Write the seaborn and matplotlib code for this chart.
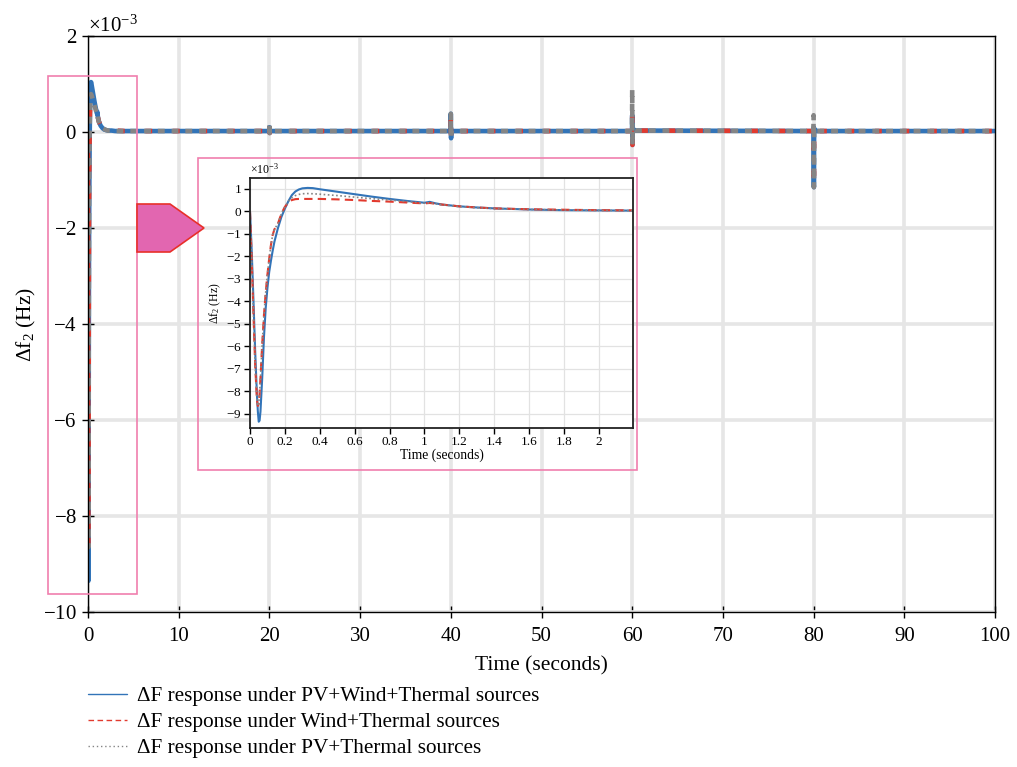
import numpy as np
import pandas as pd
import seaborn as sns
import matplotlib
matplotlib.use("Agg")
import matplotlib.pyplot as plt
from matplotlib.patches import Rectangle, Polygon
from matplotlib.lines import Line2D
from matplotlib.ticker import ScalarFormatter, MultipleLocator

# ---- simulated frequency deviation of area 2 (values in 1e-3 Hz) ----
time_s = [0, 0.01, 0.02, 0.03, 0.04, 0.045, 0.05, 0.055, 0.06, 0.07, 0.08, 0.09,
          0.1, 0.11, 0.12, 0.13, 0.14, 0.16, 0.18, 0.2, 0.22, 0.24, 0.26, 0.28,
          0.3, 0.33, 0.36, 0.4, 0.5, 0.6, 0.7, 0.8, 0.9, 1.0, 1.03, 1.06, 1.1,
          1.2, 1.3, 1.4, 1.6, 1.8, 2.0, 2.2, 2.6, 3.0, 4.0, 6.0, 10.0,
          19.98, 20.0, 20.03, 20.06, 20.15, 20.4,
          39.98, 40.0, 40.03, 40.06, 40.15, 40.4,
          59.98, 60.0, 60.03, 60.06, 60.15, 60.4,
          79.98, 80.0, 80.03, 80.06, 80.15, 80.4,
          90.0, 100.0]

df_pv_wind_thermal = [0, -1.8, -4.0, -6.3, -8.2, -8.9, -9.35, -9.3, -8.9, -7.4, -5.6, -4.3,
                      -3.4, -2.7, -2.2, -1.75, -1.35, -0.75, -0.25, 0.12, 0.45, 0.72, 0.88, 0.97,
                      1.02, 1.04, 1.03, 0.98, 0.87, 0.76, 0.65, 0.55, 0.46, 0.38, 0.42, 0.36, 0.30,
                      0.22, 0.17, 0.13, 0.08, 0.05, 0.04, 0.03, 0.03, 0.02, 0.02, 0.02, 0.02,
                      0.02, 0.10, -0.02, 0.02, 0.02, 0.02,
                      0.02, 0.38, -0.13, 0.03, 0.02, 0.02,
                      0.02, 0.35, -0.27, 0.08, 0.05, 0.03,
                      0.02, 0.10, -1.15, 0.08, 0.04, 0.02,
                      0.02, 0.02]

df_wind_thermal = [0, -2.2, -4.6, -6.9, -8.4, -8.65, -8.55, -8.1, -7.4, -5.9, -4.6, -3.6,
                   -2.8, -2.1, -1.5, -1.05, -0.8, -0.55, -0.1, 0.2, 0.4, 0.5, 0.54, 0.55,
                   0.55, 0.55, 0.55, 0.55, 0.53, 0.50, 0.46, 0.43, 0.39, 0.35, 0.37, 0.34, 0.30,
                   0.22, 0.17, 0.13, 0.09, 0.07, 0.05, 0.04, 0.03, 0.03, 0.02, 0.02, 0.02,
                   0.02, 0.20, -0.02, 0.02, 0.02, 0.02,
                   0.02, 0.38, -0.13, 0.03, 0.02, 0.02,
                   0.02, 0.40, -0.27, 0.08, 0.05, 0.03,
                   0.02, 0.10, -1.15, 0.08, 0.04, 0.02,
                   0.02, 0.02]

df_pv_thermal = [0, -2.2, -4.6, -6.9, -8.4, -8.65, -8.55, -8.1, -7.4, -5.9, -4.6, -3.6,
                 -2.8, -2.1, -1.5, -1.05, -0.8, -0.55, -0.1, 0.2, 0.45, 0.6, 0.7, 0.75,
                 0.78, 0.79, 0.78, 0.76, 0.70, 0.63, 0.56, 0.50, 0.43, 0.36, 0.38, 0.34, 0.29,
                 0.21, 0.16, 0.12, 0.08, 0.06, 0.04, 0.03, 0.03, 0.02, 0.02, 0.02, 0.02,
                 0.02, 0.20, -0.02, 0.02, 0.02, 0.02,
                 0.02, 0.38, -0.13, 0.03, 0.02, 0.02,
                 0.02, 0.88, -0.27, 0.08, 0.05, 0.03,
                 0.02, 0.35, -1.15, 0.08, 0.04, 0.02,
                 0.02, 0.02]

labels = ["ΔF response under PV+Wind+Thermal sources",
          "ΔF response under Wind+Thermal sources",
          "ΔF response under PV+Thermal sources"]

data = pd.DataFrame({
    "t": time_s,
    "pvwt": np.array(df_pv_wind_thermal) * 1e-3,
    "wt": np.array(df_wind_thermal) * 1e-3,
    "pvt": np.array(df_pv_thermal) * 1e-3,
})

sns.set_theme(style="white")
plt.rcParams["font.family"] = ["Liberation Serif", "DejaVu Serif"]
plt.rcParams["mathtext.fontset"] = "custom"
plt.rcParams["mathtext.rm"] = "Liberation Serif"
plt.rcParams["mathtext.it"] = "Liberation Serif:italic"
plt.rcParams["axes.unicode_minus"] = True
for key in ["text.color", "axes.labelcolor", "xtick.color", "ytick.color"]:
    plt.rcParams[key] = "black"

BLUE = "#3274b8"
RED = "#e23a2e"
GRAY = "#858585"
PINK = "#f07fae"

W, H = 1017, 767
fig = plt.figure(figsize=(W / 100, H / 100), dpi=100)


def fx(px):
    return px / W


def fy(py):
    return 1 - py / H


def milli_formatter():
    f = ScalarFormatter(useMathText=True)
    f.set_powerlimits((-3, -3))
    return f


ax = fig.add_axes([fx(88), fy(612), fx(995) - fx(88), fy(36) - fy(612)])

lw_main = 3.3
sns.lineplot(data=data, x="t", y="pvwt", ax=ax, color=BLUE, lw=lw_main,
             estimator=None, sort=False, linestyle="-")
sns.lineplot(data=data, x="t", y="wt", ax=ax, color=RED, lw=lw_main,
             estimator=None, sort=False, linestyle=(1.5, (1.5, 4.5)))
sns.lineplot(data=data, x="t", y="pvt", ax=ax, color=GRAY, lw=lw_main,
             estimator=None, sort=False, linestyle=(0, (1.5, 1.5)))

ax.set_xlim(0, 100)
ax.set_ylim(-10e-3, 2e-3)
ax.xaxis.set_major_locator(MultipleLocator(10))
ax.yaxis.set_major_locator(MultipleLocator(2e-3))
ax.yaxis.set_major_formatter(milli_formatter())
ax.yaxis.get_offset_text().set_fontsize(15)
ax.grid(True, color="#e6e6e6", lw=2.6)
ax.set_axisbelow(True)
for s in ax.spines.values():
    s.set_color("black")
    s.set_linewidth(1.0)
ax.tick_params(direction="inout", length=9, width=1, labelsize=15, colors="black",
               left=True, bottom=True)
ax.tick_params(axis="x", pad=6)
ax.set_xlabel("Time (seconds)", fontsize=15.5, labelpad=8)
ax.set_ylabel(r"Δf$_{\mathregular{2}}$ (Hz)", fontsize=15.5, labelpad=4)

# zoom region marker around the initial transient
ax.add_patch(Rectangle((-4.4, -9.62e-3), 9.8, 10.79e-3, fill=False,
                       edgecolor=PINK, lw=1.2, clip_on=False, zorder=5))

# frame and arrow pointing to the inset
fig.add_artist(Rectangle((fx(198), fy(470)), fx(637) - fx(198), fy(158) - fy(470),
                         transform=fig.transFigure, fill=False, edgecolor=PINK, lw=1.2))
arrow_px = [(137, 204), (170, 204), (204, 228), (170, 252), (137, 252)]
fig.add_artist(Polygon([(fx(a), fy(b)) for a, b in arrow_px], closed=True,
                       transform=fig.transFigure, facecolor="#e266b0",
                       edgecolor="#e8302a", lw=1.2))

# inset with the first seconds of the response
ins = fig.add_axes([fx(250), fy(428), fx(633) - fx(250), fy(178) - fy(428)])
sns.lineplot(data=data, x="t", y="pvwt", ax=ins, color=BLUE, lw=1.5,
             estimator=None, sort=False, linestyle="-")
sns.lineplot(data=data, x="t", y="wt", ax=ins, color=RED, lw=1.5,
             estimator=None, sort=False, linestyle=(0, (4, 2.5)))
sns.lineplot(data=data, x="t", y="pvt", ax=ins, color=GRAY, lw=1.2,
             estimator=None, sort=False, linestyle=(0, (1, 1.5)))
ins.set_xlim(0, 2.195)
ins.set_ylim(-9.63e-3, 1.48e-3)
ins.yaxis.set_major_locator(MultipleLocator(1e-3))
ins.set_xticks([0, 0.2, 0.4, 0.6, 0.8, 1, 1.2, 1.4, 1.6, 1.8, 2])
ins.set_xticklabels(["0", "0.2", "0.4", "0.6", "0.8", "1", "1.2", "1.4", "1.6", "1.8", "2"])
ins.yaxis.set_major_formatter(milli_formatter())
ins.yaxis.get_offset_text().set_fontsize(8.5)
ins.grid(True, color="#e2e2e2", lw=0.9)
ins.set_axisbelow(True)
for s in ins.spines.values():
    s.set_color("#222222")
    s.set_linewidth(1.3)
ins.tick_params(direction="out", length=4, width=1, labelsize=9.5, colors="black",
                left=True, bottom=True, pad=2)
ins.set_xlabel("Time (seconds)", fontsize=9.8, labelpad=0)
ins.set_ylabel(r"Δf$_{\mathregular{2}}$ (Hz)", fontsize=8.5, labelpad=2)

handles = [Line2D([], [], color=BLUE, lw=1.0, linestyle="-"),
           Line2D([], [], color=RED, lw=1.0, linestyle=(0, (4, 2.5))),
           Line2D([], [], color=GRAY, lw=1.0, linestyle=(0, (1, 2)))]
fig.legend(handles, labels, loc="upper left", bbox_to_anchor=(fx(69), fy(667)),
           frameon=False, fontsize=15.3, handlelength=1.85, handletextpad=0.45,
           labelspacing=0.3, borderpad=0.4)

fig.savefig("out.png", dpi=100)
